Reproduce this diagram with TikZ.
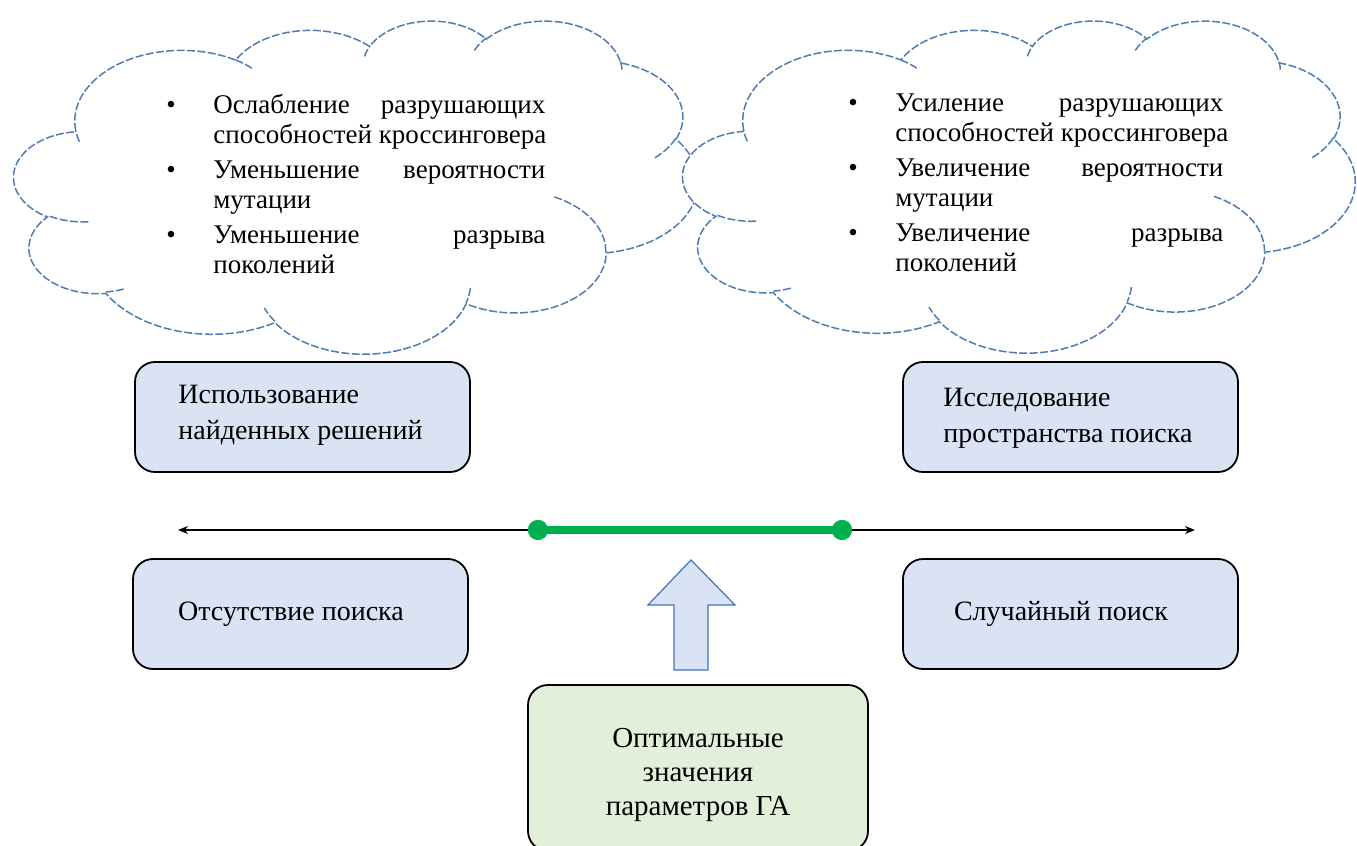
\documentclass[tikz,border=0pt]{standalone}
\usepackage{fontspec}
\setmainfont{Liberation Serif}
\usetikzlibrary{arrows.meta}
\definecolor{boxblue}{HTML}{DAE3F3}
\definecolor{boxgreen}{HTML}{E2F0D9}
\definecolor{cloudline}{HTML}{4F7DB3}
\definecolor{arrowline}{HTML}{4472C4}
\definecolor{optgreen}{HTML}{00B050}
% one elliptic arc of a DrawingML-like cloud (visual angles -> parametric)
\newcommand\wca[4]{arc[x radius=#1, y radius=#2,
  start angle={atan2((#1)*sin(#3),(#2)*cos(#3))},
  delta angle={mod(atan2((#1)*sin((#3)+(#4)),(#2)*cos((#3)+(#4)))-atan2((#1)*sin(#3),(#2)*cos(#3))+720,360)}]}
\newcommand\cloudoutline{%
  \draw[cloudstroke, fill=white] (390.0,1437.0)
    \wca{675.3}{919.0}{-190.48748}{123.78053}
    \wca{533.3}{726.7}{-144.10238}{89.94523}
    \wca{436.5}{594.5}{-145.80792}{99.72302}
    \wca{485.7}{659.5}{-130.98607}{117.24173}
    \wca{533.3}{727.3}{-78.70888}{109.02692}
    \wca{677.5}{922.0}{-46.26725}{130.26900}
    \wca{578.5}{786.7}{0.62502}{114.03333}
    \wca{675.2}{921.5}{22.45160}{115.17255}
    \wca{772.0}{1054.3}{66.24263}{75.71102}
    \wca{436.0}{591.8}{-274.94208}{146.73557}
    \wca{434.5}{594.5}{-246.82850}{152.51885}
    -- cycle;
  \draw[cloudstroke]
    (469.3,2617.7) \wca{434.5}{594.5}{86.742}{26.4295}
    (692.8,3489.9) \wca{436.0}{591.8}{73.61047}{11.44747}
    (1647.8,3909.0) \wca{675.2}{921.5}{137.62415}{14.0811}
    (2882.7,3475.1) \wca{675.2}{921.5}{6.45327}{15.99835}
    (3412.9,2295.4) \wca{578.5}{786.7}{-70.29235}{70.91737}
    (4179.8,1535.4) \wca{533.3}{727.3}{30.31803}{27.7515}
    (3832.4,542.6) \wca{485.7}{659.5}{-13.74433}{14.8589}
    (2907.8,395.2) \wca{485.7}{659.5}{-149.18145}{18.19537}
    (2214.1,472.0) \wca{436.5}{594.5}{-163.49427}{17.68635}
    (1400.0,519.2) \wca{533.3}{726.7}{-66.70695}{12.31935}
    (412.7,1578.9) \wca{675.3}{919.0}{157.65435}{11.85817};}
\begin{document}
\begin{tikzpicture}[x=0.5pt,y=-0.5pt,
  cloudstroke/.style={draw=cloudline, line width=0.75pt, dash pattern=on 4pt off 1.2pt},
  cloudtext/.style={anchor=north west, inner sep=0pt, align=left,
    font=\fontsize{13.5}{15}\selectfont},
  stagebox/.style={draw=black, line width=0.9pt, rounded corners=10pt, fill=boxblue,
    minimum width=167.5pt, minimum height=55pt},
  boxtext/.style={inner sep=0pt, font=\fontsize{14}{18}\selectfont},
  axisline/.style={line width=1pt, {Stealth[length=5pt,width=4pt]}-{Stealth[length=5pt,width=4pt]}},
  optline/.style={line width=4pt, draw=optgreen},
  optdot/.style={circle, fill=optgreen, minimum size=10pt, inner sep=0pt},
  blockarrow/.style={fill=boxblue, draw=arrowline, line width=0.6pt, line join=miter}
]
\useasboundingbox (0,0) rectangle (1357,846);

% clouds
\begin{scope}[shift={(7pt,-10pt)}, x=0.0791667pt, y=-0.0385417pt]
  \cloudoutline
\end{scope}
\begin{scope}[shift={(341.5pt,-10pt)}, x=0.0777778pt, y=-0.0384259pt]
  \cloudoutline
\end{scope}

\node[cloudtext] (tl) at (166,92) {%
\begin{tabular}{@{}p{23.5pt}@{}l@{}}
\textbullet & \makebox[166pt][s]{Ослабление разрушающих}\\
 & способностей кроссинговера\\[2.5pt]
\textbullet & \makebox[166pt][s]{Уменьшение вероятности}\\
 & мутации\\[2.5pt]
\textbullet & \makebox[166pt][s]{Уменьшение разрыва}\\
 & поколений
\end{tabular}};

\node[cloudtext] (tr) at (848,90) {%
\begin{tabular}{@{}p{23.5pt}@{}l@{}}
\textbullet & \makebox[164pt][s]{Усиление разрушающих}\\
 & способностей кроссинговера\\[2.5pt]
\textbullet & \makebox[164pt][s]{Увеличение вероятности}\\
 & мутации\\[2.5pt]
\textbullet & \makebox[164pt][s]{Увеличение разрыва}\\
 & поколений
\end{tabular}};

% upper boxes
\node[stagebox] (b1) at (302.5,417) {};
\node[boxtext, anchor=west, align=left] (t1) at (178,415) {Использование\\найденных решений};
\node[stagebox] (b2) at (1070.5,417) {};
\node[boxtext, anchor=west, align=left] (t2) at (943,418) {Исследование\\пространства поиска};

% axis
\coordinate (axl) at (178,530);
\coordinate (axr) at (1195,530);
\draw[axisline] (axl) -- (axr);
\node[optdot] (d1) at (538,530) {};
\node[optdot] (d2) at (842,530) {};
\draw[optline] (d1.center) -- (d2.center);
\node[optdot] at (d1) {};
\node[optdot] at (d2) {};

% lower boxes
\node[stagebox] (b3) at (300.5,614) {};
\node[boxtext] (t3) at (291,614) {Отсутствие поиска};
\node[stagebox] (b4) at (1070.5,614) {};
\node[boxtext] (t4) at (1061,614) {Случайный поиск};

% block arrow
\coordinate (at) at (691,560);
\draw[blockarrow] (674,670) -- (674,605) -- (648,605) -- (at) -- (735,605) -- (708,605) -- (708,670) -- cycle;

% bottom box
\node[stagebox, fill=boxgreen, minimum width=170pt, minimum height=83pt] (b5) at (698,768) {};
\node[boxtext, align=center, font=\fontsize{14.5}{17}\selectfont] (t5) at (698,775) {Оптимальные\\значения\\параметров ГА};
\end{tikzpicture}
\end{document}
